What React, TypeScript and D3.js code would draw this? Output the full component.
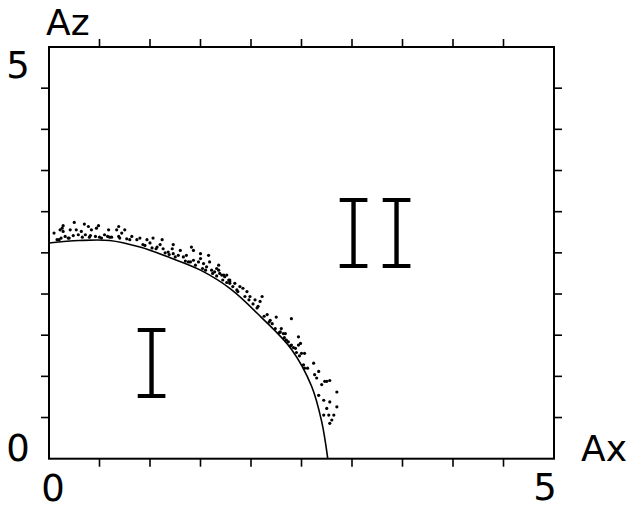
import React from "react";
import * as d3 from "d3";

// Stability boundary Az(Ax)
const curveAx = [0.0, 0.3, 0.6, 0.9, 1.2, 1.5, 1.8, 2.1, 2.4, 2.6, 2.7, 2.76];
const curveAz = [2.62, 2.65, 2.65, 2.57, 2.44, 2.29, 2.06, 1.72, 1.33, 0.88, 0.45, 0.0];

// Simulated points lying just outside the boundary
const dotAx = [
  0.13, 0.25, 0.14, 0.21, 0.27, 0.32, 0.39, 0.42, 0.47, 0.49, 0.59, 0.67, 0.72, 0.75,
  0.16, 0.19, 0.24, 0.29, 0.36, 0.41, 0.46, 0.52, 0.55, 0.62, 0.69, 0.77, 0.82, 0.87,
  0.9, 0.14, 0.69, 0.11, 0.08, 0.12, 0.33, 0.58, 0.05, 0.35,
  0.97, 1.03, 1.12, 1.23, 1.41, 1.43, 1.5, 1.58, 1.36, 1.48, 1.66, 1.73, 1.78, 0.93,
  1.0, 1.07, 1.13, 1.18, 1.23, 1.28, 1.33, 1.4, 1.43, 1.53, 1.56, 1.61, 1.64, 1.69,
  1.74, 1.79, 1.22, 1.3, 1.1, 1.5, 1.59, 1.68,
  1.68, 1.71, 1.76, 1.79, 1.84, 1.89, 1.92, 1.96, 1.99, 2.04, 2.09, 2.11, 2.07, 2.16,
  2.19, 2.25, 2.4, 2.3, 2.34, 1.79, 1.87,
  2.21, 2.29, 2.32, 2.47, 2.49, 2.42, 2.53, 2.62, 2.67, 2.65, 2.75, 2.78, 2.85, 2.7,
  2.67, 2.72, 2.78, 2.75, 2.85, 2.77, 2.8, 2.72, 2.47, 2.39, 2.52, 2.73, 2.82, 2.78,
  2.5, 2.53, 2.63, 2.4, 2.44, 2.37, 2.33,
  1.02, 1.06, 1.15, 1.19, 1.25, 1.35, 1.38, 1.45, 1.52, 1.55, 1.62, 1.66, 1.72, 1.76,
  1.82, 1.86, 1.94, 1.98, 2.02, 2.06, 2.13, 2.18, 2.24, 2.28, 2.35, 2.45, 2.48, 2.56,
  0.6, 0.7, 0.8, 0.95, 0.2, 0.1, 0.4, 0.5,
];
const dotAz = [
  2.8, 2.87, 2.76, 2.78, 2.78, 2.76, 2.82, 2.78, 2.8, 2.83, 2.78, 2.78, 2.74, 2.78,
  2.7, 2.68, 2.71, 2.72, 2.72, 2.71, 2.7, 2.68, 2.72, 2.69, 2.7, 2.67, 2.7, 2.66,
  2.68, 2.83, 2.82, 2.78, 2.66, 2.68, 2.69, 2.7, 2.74, 2.85,
  2.66, 2.68, 2.66, 2.6, 2.57, 2.53, 2.49, 2.47, 2.47, 2.39, 2.31, 2.23, 2.17, 2.6,
  2.62, 2.57, 2.55, 2.51, 2.49, 2.47, 2.45, 2.39, 2.41, 2.37, 2.33, 2.29, 2.27, 2.25,
  2.21, 2.15, 2.55, 2.53, 2.6, 2.43, 2.39, 2.35,
  2.29, 2.23, 2.23, 2.17, 2.13, 2.09, 2.07, 2.03, 1.97, 1.93, 1.91, 1.97, 1.85, 1.75,
  1.68, 1.72, 1.7, 1.58, 1.52, 2.13, 2.03,
  1.64, 1.54, 1.52, 1.48, 1.4, 1.35, 1.28, 1.16, 1.06, 0.98, 0.94, 0.95, 0.81, 0.9,
  0.77, 0.71, 0.69, 0.61, 0.63, 0.53, 0.47, 0.53, 1.38, 1.37, 1.14, 0.94, 0.53, 0.43,
  1.28, 1.1, 1.02, 1.38, 1.34, 1.42, 1.47,
  2.56, 2.55, 2.5, 2.48, 2.45, 2.4, 2.39, 2.35, 2.31, 2.29, 2.25, 2.22, 2.17, 2.14,
  2.09, 2.05, 1.97, 1.93, 1.88, 1.83, 1.73, 1.66, 1.58, 1.53, 1.44, 1.29, 1.25, 1.1,
  2.69, 2.68, 2.66, 2.59, 2.68, 2.66, 2.69, 2.69,
];

const tickValues = [0.5, 1, 1.5, 2, 2.5, 3, 3.5, 4, 4.5];

const W = 634;
const H = 511;

export default function App() {
  const x = d3.scaleLinear().domain([0, 5]).range([49, 554]);
  const y = d3.scaleLinear().domain([0, 5]).range([458.7, 47]);

  const boundary = d3
    .line<number>()
    .x((_, i) => x(curveAx[i]))
    .y((_, i) => y(curveAz[i]))
    .curve(d3.curveCatmullRom.alpha(0.5))(curveAx);

  const tick = 8;
  const labelFont = "'DejaVu Sans', sans-serif";
  const romanStyle: React.CSSProperties = {
    fontFamily: "Inter, sans-serif",
    fontWeight: 160,
    fontSize: 96,
    fontFeatureSettings: "'cv08'",
  };

  return (
    <svg
      width={W}
      height={H}
      style={{ position: "absolute", left: 0, top: 0, background: "#fff" }}
    >
      <rect x={0} y={0} width={W} height={H} fill="#fff" />
      {/* frame */}
      <rect
        x={x(0)}
        y={y(5)}
        width={x(5) - x(0)}
        height={y(0) - y(5)}
        fill="none"
        stroke="#000"
        strokeWidth={2}
      />
      {/* outward ticks on all four sides */}
      <g stroke="#000" strokeWidth={1.6}>
        {tickValues.map((v) => (
          <g key={v}>
            <line x1={x(v)} x2={x(v)} y1={y(5)} y2={y(5) - tick} />
            <line x1={x(v)} x2={x(v)} y1={y(0)} y2={y(0) + tick} />
            <line x1={x(0)} x2={x(0) - tick} y1={y(v)} y2={y(v)} />
            <line x1={x(5)} x2={x(5) + tick} y1={y(v)} y2={y(v)} />
          </g>
        ))}
      </g>

      {/* boundary curve */}
      <path d={boundary ?? ""} fill="none" stroke="#000" strokeWidth={1.6} />

      {/* scattered points */}
      <g fill="#000">
        {dotAx.map((v, i) => (
          <circle key={i} cx={x(v)} cy={y(dotAz[i])} r={1.6} />
        ))}
      </g>

      {/* axis numbers */}
      <g fontFamily={labelFont} fontSize={37} fill="#000">
        <text x={18} y={78} textAnchor="middle">5</text>
        <text x={18} y={461} textAnchor="middle">0</text>
        <text x={53} y={501} textAnchor="middle">0</text>
        <text x={545} y={500} textAnchor="middle">5</text>
      </g>
      <g fontFamily={labelFont} fontSize={36} fill="#000">
        <text x={46} y={35}>Az</text>
        <text x={581} y={461}>Ax</text>
      </g>

      {/* region labels */}
      <text x={151.5} y={398} textAnchor="middle" style={romanStyle}>I</text>
      <text y={268} textAnchor="middle" style={romanStyle}>
        <tspan x={353.5}>I</tspan>
        <tspan x={396.5}>I</tspan>
      </text>
    </svg>
  );
}
